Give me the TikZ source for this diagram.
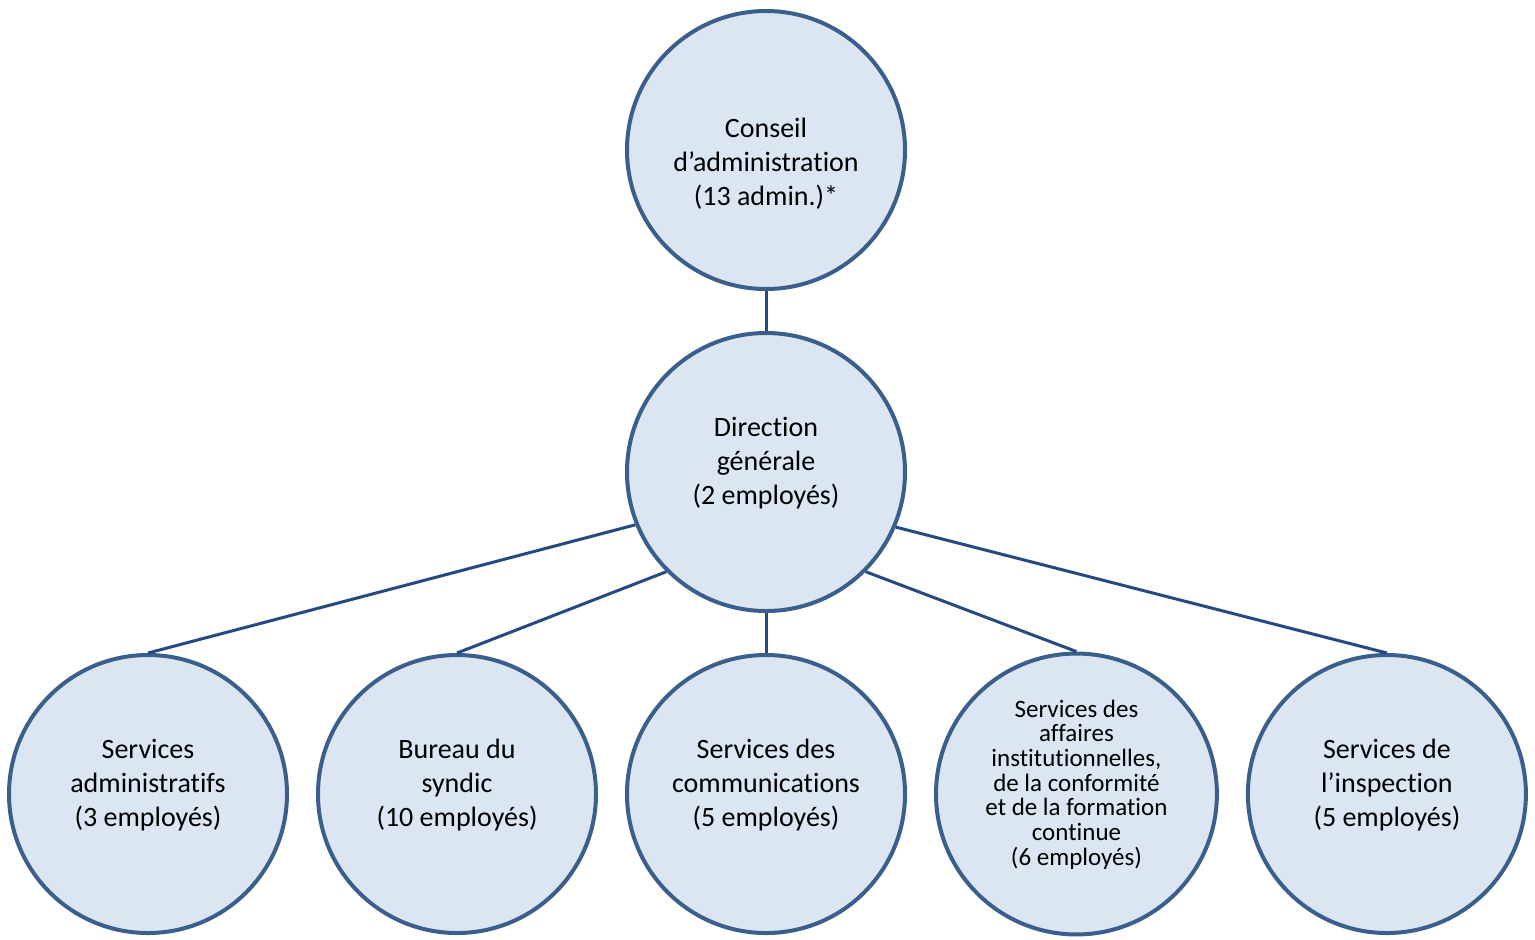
\documentclass[tikz,border=0pt]{standalone}
\usepackage{fontspec}
\setmainfont{Carlito}[Ligatures=NoCommon, Contextuals=NoAlternate]
\usepackage{tikz}
\usetikzlibrary{positioning}

\definecolor{unitfill}{HTML}{DCE6F2}
\definecolor{unitline}{HTML}{3A5F8C}
\definecolor{linkline}{HTML}{254A80}

\begin{document}
\begin{tikzpicture}[
  x=0.5pt, y=-0.5pt,
  every node/.style={draw=unitline, fill=unitfill, circle, line width=2pt,
    minimum size=139pt, align=center, font=\fontsize{14}{17}\selectfont},
  small/.style={font=\fontsize{12.5}{12.35}\selectfont},
  lifted/.style={execute at end node={\rule[-11.5pt]{0pt}{11.5pt}}},
  link/.style={draw=linkline, line width=1.5pt},
  node distance=20pt and 13.5pt
]
\useasboundingbox (0,0) rectangle (1535,939);

% Level 0
\node (cda) at (766,150) {\rule{0pt}{23pt}Conseil\\d’administration\\(13 admin.)*};

% Level 1
\node (dg) [below=of cda, lifted] {Direction\\générale\\(2 employés)};

% Level 2
\node (com)  [below=of dg, lifted]   {Services des\\communications\\(5 employés)};
\node (synd) [left=of com, lifted]   {Bureau du\\syndic\\(10 employés)};
\node (adm)  [left=of synd, lifted]  {Services\\administratifs\\(3 employés)};
\node (aff)  [right=of com, small, lifted] {Services des\\affaires\\institutionnelles,\\de la conformité\\et de la formation\\continue\\(6 employés)};
\node (insp) [right=of aff, lifted]  {Services de\\l’inspection\\(5 employés)};

% Edges
\draw[link] (cda) -- (dg);

\draw[link] (dg.202.5) -- (adm.north);
\draw[link] (dg.225)   -- (synd.north);
\draw[link] (dg.270)   -- (com.north);
\draw[link] (dg.315)   -- (aff.north);
\draw[link] (dg.337.5) -- (insp.north);

\end{tikzpicture}
\end{document}
